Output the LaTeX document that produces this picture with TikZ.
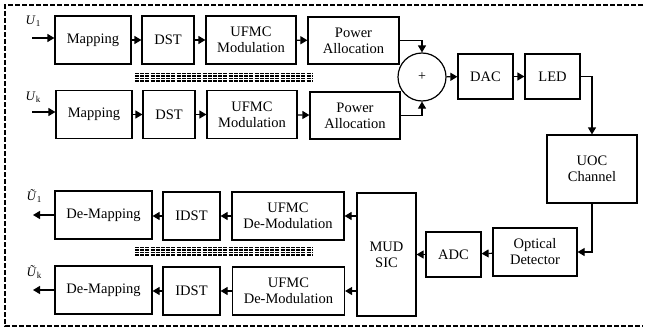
\documentclass[tikz,border=0pt]{standalone}
\usepackage{fontspec}
\setmainfont{Liberation Serif}
\usetikzlibrary{arrows.meta}
\newcommand{\symlab}[2]{#1\raisebox{-2pt}{\fontsize{9}{9}\selectfont #2}}
\begin{document}
\begin{tikzpicture}[x=1pt,y=-1pt,
  box/.style={draw,line width=1.2pt,align=center,font=\fontsize{14.5}{16}\selectfont,inner sep=0pt},
  arr/.style={line width=1.2pt,-{Triangle[length=7pt,width=8pt]}},
  multidash/.style={line width=1.3pt,dash pattern=on 4pt off 1.2pt},
  lab/.style={font=\fontsize{13}{15}\selectfont,inner sep=0pt}]
\useasboundingbox (0,0) rectangle (645,332);
% frame
\draw[line width=1.3pt,dash pattern=on 5pt off 2pt] (643,5) -- (5,5) -- (5,326) -- (643,326);
% row 1 tx
\node[box,minimum width=76pt,minimum height=48pt] (map1) at (93,40) {Mapping};
\node[box,minimum width=52pt,minimum height=48pt] (dst1) at (168,40) {DST};
\node[box,minimum width=90pt,minimum height=48pt] (mod1) at (251,40) {UFMC\\Modulation};
\node[box,minimum width=91pt,minimum height=47pt] (pa1) at (353.5,40.5) {Power\\Allocation};
% row k tx
\node[box,minimum width=76pt,minimum height=48pt] (mapk) at (94,114.5) {Mapping};
\node[box,minimum width=52pt,minimum height=48pt] (dstk) at (169,114.5) {DST};
\node[box,minimum width=90pt,minimum height=48pt] (modk) at (252,114.5) {UFMC\\Modulation};
\node[box,minimum width=90pt,minimum height=47pt] (pak) at (355,115.5) {Power\\Allocation};
% sum
\node[draw,circle,line width=1.2pt,minimum size=48pt,inner sep=0pt,font=\fontsize{14}{16}\selectfont] (sum) at (422,77) {+};
\node[box,minimum width=55pt,minimum height=45pt] (dac) at (485.5,76.5) {DAC};
\node[box,minimum width=55pt,minimum height=45pt] (led) at (552.5,76.5) {LED};
\node[box,minimum width=90pt,minimum height=68pt] (uoc) at (592,169) {UOC\\Channel};
\node[box,minimum width=84pt,minimum height=48pt] (od) at (535,252) {Optical\\Detector};
\node[box,minimum width=55pt,minimum height=45pt] (adc) at (453.5,254.5) {ADC};
\node[box,minimum width=59pt,minimum height=123pt] (mud) at (386.5,254.5) {MUD\\SIC};
% rx rows
\node[box,minimum width=112pt,minimum height=48pt] (dmod1) at (288,216) {UFMC\\De-Modulation};
\node[box,minimum width=57pt,minimum height=48pt] (idst1) at (191.5,216) {IDST};
\node[box,minimum width=97pt,minimum height=48pt] (dmap1) at (103.5,215) {De-Mapping};
\node[box,minimum width=112pt,minimum height=48pt] (dmodk) at (288.5,291) {UFMC\\De-Modulation};
\node[box,minimum width=57pt,minimum height=48pt] (idstk) at (191.5,291) {IDST};
\node[box,minimum width=97pt,minimum height=48pt] (dmapk) at (103.5,290) {De-Mapping};
% inputs / outputs
\coordinate (in1) at (32,38);
\coordinate (ink) at (32,112);
\coordinate (out1) at (33,215);
\coordinate (outk) at (33,290);
\node[lab] (u1) at (33,21) {\symlab{\textit{U}}{1}};
\node[lab] (uk) at (33,97) {\symlab{\textit{U}}{k}};
\node[lab] (v1) at (34,196) {\symlab{\textit{\~U}}{1}};
\node[lab] (vk) at (34,272) {\symlab{\textit{\~U}}{k}};
\draw[arr] (in1) -- (in1 -| map1.west);
\draw[arr] (ink) -- (ink -| mapk.west);
\draw[arr] (map1) -- (dst1);
\draw[arr] (dst1) -- (mod1);
\draw[arr] (mod1) -- (pa1);
\draw[arr] (mapk) -- (dstk);
\draw[arr] (dstk) -- (modk);
\draw[arr] (modk) -- (pak);
\draw[arr] (pa1.east) -| (sum.north);
\draw[arr] (pak.east) -| (sum.south);
\draw[arr] (sum) -- (dac);
\draw[arr] (dac) -- (led);
\draw[arr] (led.east) -| (uoc.north);
\draw[arr] (uoc.south) |- (od.east);
\draw[arr] (od) -- (adc);
\draw[arr] (adc) -- (mud);
\draw[arr] (mud.west |- dmod1.east) -- (dmod1.east);
\draw[arr] (mud.west |- dmodk.east) -- (dmodk.east);
\draw[arr] (dmod1) -- (idst1);
\draw[arr] (idst1.west) -- (idst1.west -| dmap1.east);
\draw[arr] (dmodk) -- (idstk);
\draw[arr] (idstk.west) -- (idstk.west -| dmapk.east);
\draw[arr] (dmap1.west) -- (out1);
\draw[arr] (dmapk.west) -- (outk);
% multi-dash separators
\foreach \yy in {73.5,76,78.5,81} {\draw[multidash] (135,\yy) -- (313,\yy);}
\foreach \yy in {247.5,250,252.5,255} {\draw[multidash] (135,\yy) -- (313,\yy);}
\end{tikzpicture}
\end{document}
